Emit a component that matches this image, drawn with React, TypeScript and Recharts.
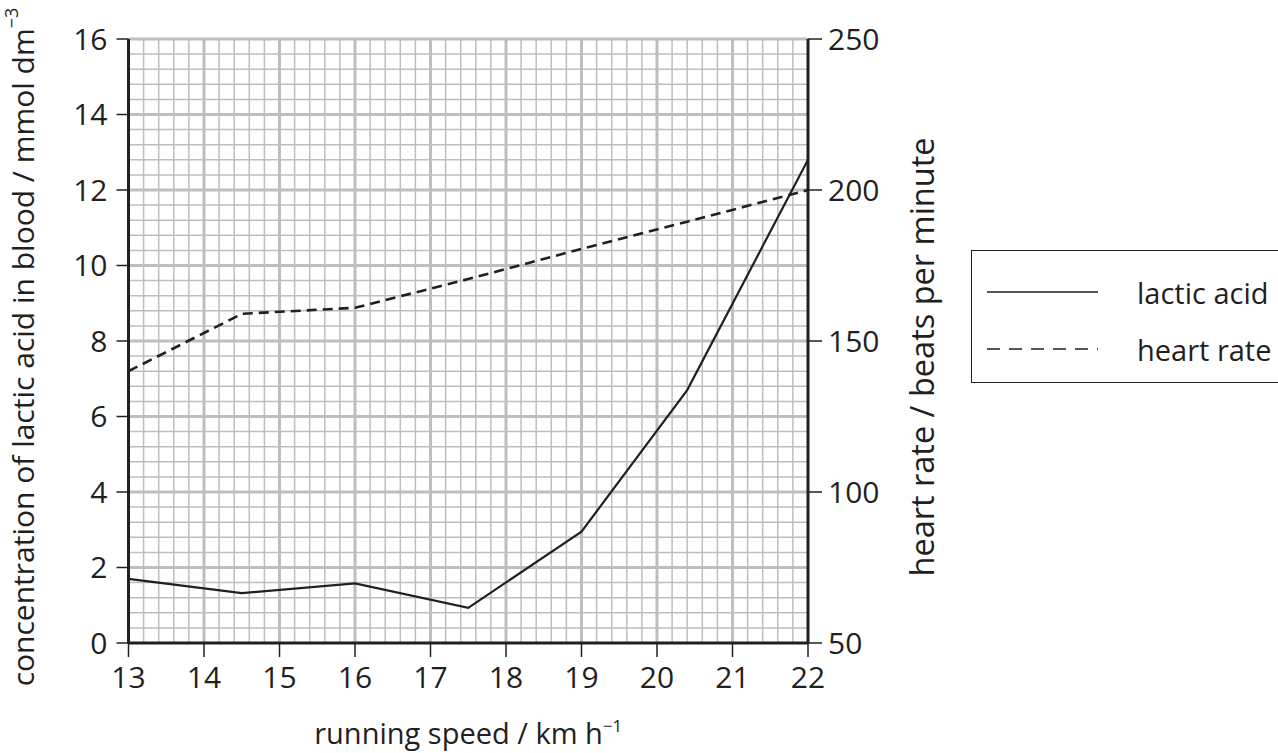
import React from 'react';
import { ComposedChart, Line, XAxis, YAxis, ReferenceLine, Legend } from 'recharts';

const speeds = [13, 14.5, 16, 17.5, 19, 20.4, 22];
const lacticAcid = [1.7, 1.32, 1.58, 0.93, 2.95, 6.7, 12.8];
const heartRate = [140, 159, 161, 170.5, 180.5, 189.5, 200];

const xTicks = [13, 14, 15, 16, 17, 18, 19, 20, 21, 22];
const leftTicks = [0, 2, 4, 6, 8, 10, 12, 14, 16];
const rightTicks = [50, 100, 150, 200, 250];
const legendOrder = ['lactic', 'heart'];

const data = speeds.map((s, i) => ({ speed: s, lactic: lacticAcid[i], heart: heartRate[i] }));

const INK = '#231f20';
const GRID = '#bcbec0';
const FONT = '"Open Sans", sans-serif';

const xMinor: number[] = [];
for (let i = 1; i < 45; i++) if (i % 5 !== 0) xMinor.push(Math.round((13 + i * 0.2) * 100) / 100);
const xMajor = [14, 15, 16, 17, 18, 19, 20, 21];
const yMinor: number[] = [];
for (let i = 1; i < 40; i++) if (i % 5 !== 0) yMinor.push(Math.round(i * 0.4 * 100) / 100);
const yMajor = [2, 4, 6, 8, 10, 12, 14, 16];

const LeftTitle = (props: any) => {
  const vb = props.viewBox || {};
  const cx = vb.x - 6;
  const cy = vb.y + vb.height / 2 + 6;
  return (
    <text x={cx} y={cy} transform={`rotate(-90 ${cx} ${cy})`} textAnchor="middle" dominantBaseline="central"
      fontSize={30} fill={INK} fontFamily={FONT}>
      concentration of lactic acid in blood / mmol dm
      <tspan fontSize={18} dy={-12}>−3</tspan>
    </text>
  );
};

const RightTitle = (props: any) => {
  const vb = props.viewBox || {};
  const cx = vb.x + 113;
  const cy = vb.y + vb.height / 2 + 16;
  return (
    <text x={cx} y={cy} transform={`rotate(-90 ${cx} ${cy})`} textAnchor="middle" dominantBaseline="central"
      fontSize={32.5} fill={INK} fontFamily={FONT}>
      heart rate / beats per minute
    </text>
  );
};

const XTitle = (props: any) => {
  const vb = props.viewBox || {};
  const cx = vb.x + vb.width / 2;
  const cy = vb.y + 101;
  return (
    <text x={cx} y={cy} textAnchor="middle" fontSize={29} fill={INK} fontFamily={FONT}>
      running speed / km h
      <tspan fontSize={17} dy={-12}>−1</tspan>
    </text>
  );
};

const LegendBox = (props: any) => {
  const payload = [...(props.payload || [])].sort(
    (a: any, b: any) => legendOrder.indexOf(a.dataKey) - legendOrder.indexOf(b.dataKey)
  );
  return (
    <div style={{ width: 330, height: 133, border: `1.5px solid ${INK}`, boxSizing: 'border-box', background: '#fff' }}>
      <svg width={330} height={130}>
        {payload.map((p: any, i: number) => (
          <g key={i}>
            <line x1={15} x2={126} y1={41 + i * 57} y2={41 + i * 57} stroke={INK} strokeWidth={1.6}
              strokeDasharray={p.dataKey === 'heart' ? '13 9' : undefined} />
            <text x={165} y={41 + i * 57} dominantBaseline="central" fontSize={29} fill={INK} fontFamily={FONT}>
              {p.value}
            </text>
          </g>
        ))}
      </svg>
    </div>
  );
};

export default function App() {
  return (
    <div style={{ position: 'absolute', left: 0, top: 0, width: 1278, height: 753, overflow: 'hidden', background: '#fff', fontFamily: FONT }}>
      <ComposedChart width={1278} height={753} data={data} margin={{ top: 39, right: 370, bottom: 30, left: 28.5 }}>
        <XAxis dataKey="speed" type="number" domain={[13, 22]} ticks={xTicks} interval={0} height={80}
          tickSize={14} tickMargin={10} axisLine={{ stroke: INK, strokeWidth: 3 }} tickLine={{ stroke: INK, strokeWidth: 1.5 }}
          tick={{ fontSize: 30, fill: INK, fontFamily: FONT }} label={<XTitle />} />
        <YAxis yAxisId="left" type="number" domain={[0, 16]} ticks={leftTicks} interval={0} width={100}
          tickSize={12} tickMargin={9} axisLine={{ stroke: INK, strokeWidth: 3 }} tickLine={{ stroke: INK, strokeWidth: 1.5 }}
          tick={{ fontSize: 30, fill: INK, fontFamily: FONT }} label={<LeftTitle />} />
        <YAxis yAxisId="right" orientation="right" type="number" domain={[50, 250]} ticks={rightTicks} interval={0} width={100}
          tickSize={14} tickMargin={6} axisLine={{ stroke: INK, strokeWidth: 3 }} tickLine={{ stroke: INK, strokeWidth: 1.5 }}
          tick={{ fontSize: 30, fill: INK, fontFamily: FONT }} label={<RightTitle />} />
        {xMinor.map((v) => (
          <ReferenceLine key={'xm' + v} x={v} yAxisId="left" stroke={GRID} strokeWidth={1.5} />
        ))}
        {yMinor.map((v) => (
          <ReferenceLine key={'ym' + v} y={v} yAxisId="left" stroke={GRID} strokeWidth={1.5} />
        ))}
        {xMajor.map((v) => (
          <ReferenceLine key={'xM' + v} x={v} yAxisId="left" stroke={GRID} strokeWidth={3} />
        ))}
        {yMajor.map((v) => (
          <ReferenceLine key={'yM' + v} y={v} yAxisId="left" stroke={GRID} strokeWidth={3} />
        ))}
        <Line yAxisId="left" type="linear" dataKey="lactic" name="lactic acid" stroke={INK} strokeWidth={2.2}
          dot={false} activeDot={false} isAnimationActive={false} />
        <Line yAxisId="right" type="linear" dataKey="heart" name="heart rate" stroke={INK} strokeWidth={2.6}
          strokeDasharray="10 6" dot={false} activeDot={false} isAnimationActive={false} />
        <Legend layout="horizontal" verticalAlign="middle" align="center" content={<LegendBox />}
          wrapperStyle={{ position: 'absolute', left: 971, top: 250, width: 330, height: 133 }} />
      </ComposedChart>
    </div>
  );
}
